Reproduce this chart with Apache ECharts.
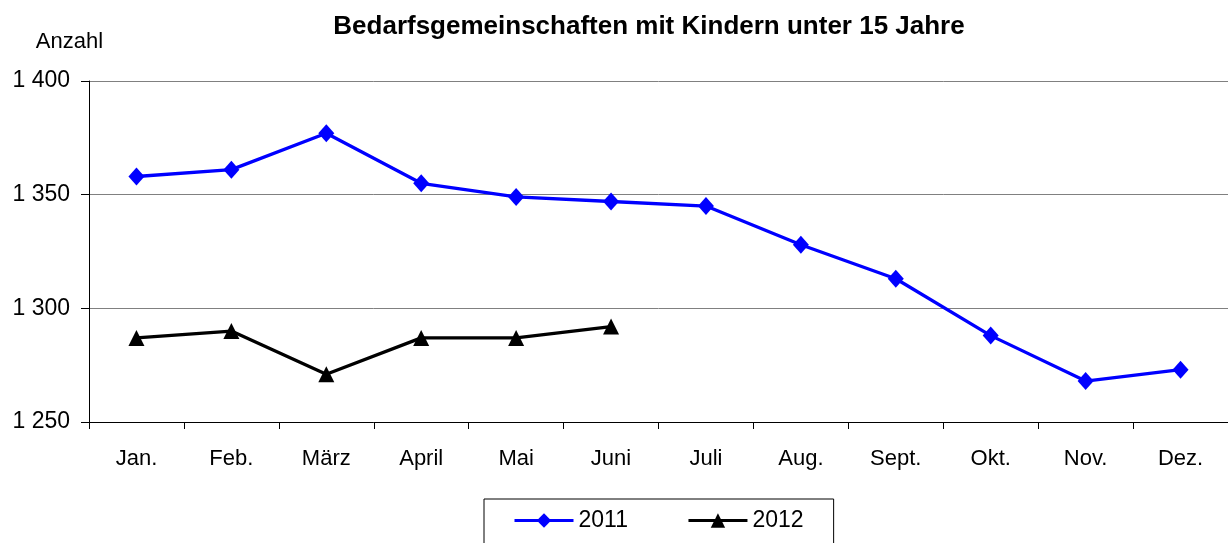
<!DOCTYPE html>
<html>
<head>
<meta charset="utf-8">
<script src="https://cdn.jsdelivr.net/npm/echarts@6/dist/echarts.min.js"></script>
<style>
  html, body { margin: 0; padding: 0; background: #fff; }
  #chart { width: 1228px; height: 543px; }
</style>
</head>
<body>
<div id="chart"></div>
<script>
const months = ['Jan.', 'Feb.', 'März', 'April', 'Mai', 'Juni', 'Juli', 'Aug.', 'Sept.', 'Okt.', 'Nov.', 'Dez.']
const values2011 = [1358, 1361, 1377, 1355, 1349, 1347, 1345, 1328, 1313, 1288, 1268, 1273]
const values2012 = [1287, 1290, 1271, 1287, 1287, 1292]

const fmt = v => String(v).replace(/\B(?=(\d{3})+(?!\d))/g, ' ')

const chart = echarts.init(document.getElementById('chart'))

chart.setOption({
  animation: false,
  textStyle: { fontFamily: 'Liberation Sans, Arial, sans-serif' },
  title: {
    text: 'Bedarfsgemeinschaften mit Kindern unter 15 Jahre',
    left: 644,
    textAlign: 'center',
    top: 9,
    textStyle: { fontSize: 26, fontWeight: 'bold', color: '#000' }
  },
  legend: {
    left: 484,
    top: 499,
    padding: [10, 30, 20, 29],
    itemGap: 59,
    itemWidth: 59,
    itemHeight: 18,
    borderColor: '#000',
    borderWidth: 1,
    borderRadius: 0,
    lineStyle: { width: 3 },
    textStyle: { fontSize: 23, color: '#000' },
    data: ['2011', '2012']
  },
  grid: { left: 89, right: 0, top: 81, bottom: 121 },
  xAxis: {
    type: 'category',
    data: months,
    boundaryGap: true,
    axisLine: { lineStyle: { color: '#000', width: 1 } },
    axisTick: { show: true, inside: false, length: 7, lineStyle: { color: '#000' } },
    axisLabel: { fontSize: 22, color: '#000', margin: 26 }
  },
  yAxis: {
    type: 'value',
    min: 1250,
    max: 1400,
    interval: 50,
    name: 'Anzahl',
    nameLocation: 'end',
    nameGap: 28,
    nameTextStyle: { fontSize: 22, color: '#000', align: 'center', padding: [0, 0, 0, -39] },
    axisLine: { show: true, lineStyle: { color: '#000', width: 1 } },
    axisTick: { show: true, length: 8, lineStyle: { color: '#000' } },
    axisLabel: { fontSize: 23, color: '#000', margin: 19, formatter: fmt },
    splitLine: { show: true, lineStyle: { color: '#808080', width: 1 } }
  },
  series: [
    {
      name: '2011',
      type: 'line',
      data: values2011,
      color: '#0000ff',
      lineStyle: { width: 3.3, color: '#0000ff' },
      symbol: 'diamond',
      symbolSize: [16, 18],
      itemStyle: { color: '#0000ff' }
    },
    {
      name: '2012',
      type: 'line',
      data: values2012,
      color: '#000',
      lineStyle: { width: 3.3, color: '#000' },
      symbol: 'triangle',
      symbolSize: 16,
      itemStyle: { color: '#000' }
    }
  ]
})
</script>
</body>
</html>
